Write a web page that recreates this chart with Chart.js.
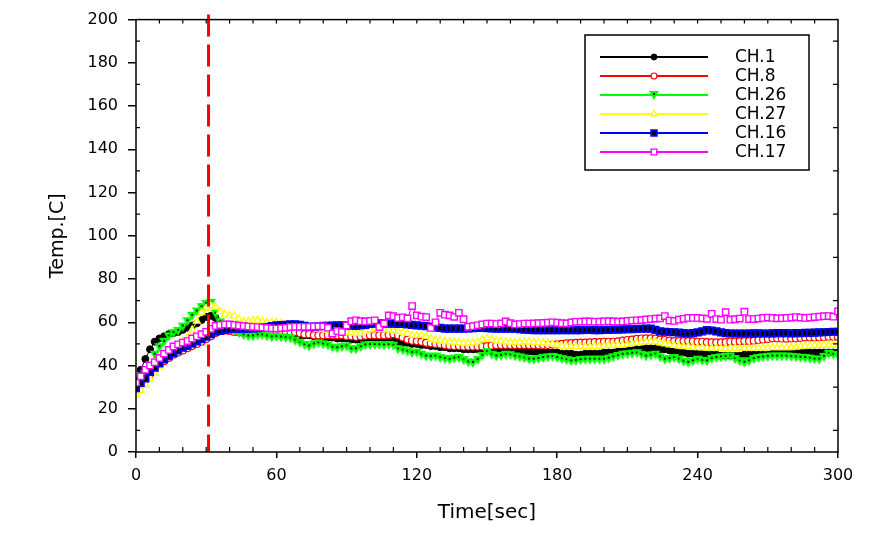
<!DOCTYPE html>
<html>
<head>
<meta charset="utf-8">
<title>Temp vs Time</title>
<script src="https://cdn.jsdelivr.net/npm/chart.js@4.4.0/dist/chart.umd.min.js"></script>
<style>
  html, body { margin: 0; padding: 0; background: #fff; }
</style>
</head>
<body>
<canvas id="tempChart" width="893" height="535"></canvas>
<script>
// readings every 2 s, 0..300 s
const times = Array.from({ length: 151 }, (_, i) => i * 2);

const ch1 = [
  33, 38, 43, 47.5, 51, 52.5, 53.5, 54.5, 55, 55.5,
  56.5, 57.5, 58.5, 59.5, 61, 62.5, 63, 62, 59, 57,
  56.5, 56.5, 56, 56, 56.5, 56, 56, 56.5, 56, 56.5,
  56, 55.5, 55, 54.5, 54.5, 54, 54, 54, 53.5, 53.5,
  53, 53, 53, 52.5, 52.5, 52.5, 52, 52, 52, 51.5,
  51.5, 51.5, 51.5, 51, 51, 51, 51, 50.5, 50.5, 50,
  50, 49.5, 49.5, 49, 49, 48.5, 48.5, 48, 48, 48,
  47.5, 47.5, 47.5, 47.5, 47, 47.5, 48, 48, 47.5, 47.5,
  47, 47, 47, 46.5, 46.5, 46.5, 46, 46, 46, 46,
  46, 45.5, 45.5, 45.5, 45, 45, 45.5, 45.5, 45.5, 45.5,
  46, 46, 46, 46.5, 46.5, 47, 47, 47.5, 47.5, 48,
  48, 48, 47.5, 47.5, 47, 46.5, 46, 46, 45.5, 45.5,
  45.5, 45.5, 45, 45, 45, 44.5, 44.5, 44.5, 44.5, 44.5,
  45, 45, 45, 45, 45, 45, 45.5, 45.5, 45.5, 45.5,
  45.5, 46, 46, 46, 46, 46, 46, 46, 46, 46,
  46
];
const ch8 = [
  29, 31, 33.5, 36, 38.5, 40.5, 42, 43.5, 45, 46,
  47, 48, 49, 50, 51, 52.3, 53.5, 55, 56, 56.2,
  56, 55.5, 55.5, 55, 55, 55, 55.5, 55, 55, 55.5,
  55.5, 55.5, 55.5, 55.5, 55.5, 55, 54.5, 54.5, 54, 54,
  54, 54, 54, 54, 54, 53.5, 53.5, 53.3, 53.5, 53.8,
  54, 54, 54, 54, 54.2, 54.5, 54, 53, 52, 51.5,
  51.3, 51, 50.5, 50.3, 50, 49.8, 49.5, 49.2, 49, 49,
  48.8, 48.8, 48.8, 48.8, 48.8, 49, 49.3, 49.5, 49.5, 49.5,
  49.5, 49.5, 49.5, 49.5, 49.5, 49.5, 49.5, 49.5, 49.5, 49.7,
  49.8, 50, 50.2, 50.4, 50.5, 50.6, 50.6, 50.7, 50.8, 50.8,
  51, 51, 51, 51.2, 51.5, 51.8, 52, 52.3, 52.5, 52.6,
  52.6, 52.4, 52, 51.8, 51.5, 51.3, 51.3, 51.3, 51.3, 51.2,
  51, 51, 50.8, 50.7, 50.7, 50.7, 50.8, 51, 51, 51.2,
  51.3, 51.3, 51.5, 51.8, 52, 52.3, 52.6, 52.6, 52.5, 52.4,
  52.5, 52.6, 52.8, 53, 53, 53, 53.1, 53.2, 53.3, 53.3,
  53.3
];
const ch26 = [
  28, 32, 36, 40, 45, 48.5, 51, 53.5, 55, 56,
  58, 60.5, 63, 65, 67, 68.5, 69, 64, 60, 58.5,
  57, 56, 55, 54, 53.5, 53.5, 54, 54, 53.5, 53,
  53.3, 53, 52.8, 52.5, 51.5, 50.5, 49.5, 48.8, 49.8, 50.3,
  49.8, 49.3, 48.3, 48, 48.5, 48.8, 47.5, 47.5, 48.5, 49.3,
  49.5, 49.5, 49.5, 49.3, 49.5, 49.2, 47.5, 47, 46.5, 45.8,
  46, 45, 44.2, 44, 44.2, 43.5, 43, 42.7, 43.2, 43.5,
  42.5, 41.5, 41.2, 42.5, 44.5, 46.2, 45, 44.2, 44.5, 45,
  44.8, 44.2, 43.8, 43.3, 42.8, 42.7, 43, 43.5, 43.8, 44,
  43.5, 43, 42.5, 42, 42.2, 42.5, 42.7, 42.7, 42.7, 42.7,
  42.7, 43.2, 43.8, 44.4, 45, 45.2, 45.5, 45.7, 45, 44.2,
  44.6, 45, 43.8, 42.7, 43, 43.5, 42.8, 41.8, 41.3, 42,
  42.7, 42.2, 42, 43, 43.5, 43.8, 44, 44.2, 43, 42,
  41.3, 42, 43, 43.5, 43.8, 44, 44.2, 44.2, 44.2, 44.2,
  44, 43.8, 43.6, 43.5, 43.2, 42.8, 42.7, 44, 45.5, 45,
  44.5
];
const ch27 = [
  26.5, 28.5, 31, 34, 36.5, 39.5, 42.5, 45, 47, 49,
  51, 53, 56.5, 60.5, 64.5, 66.5, 67.7, 67, 65, 63.8,
  63.2, 63, 61.5, 60.2, 60.5, 61, 61, 60.5, 60, 60,
  60, 59.5, 59, 58.7, 58.5, 58.3, 58, 57.9, 57.5, 57,
  56.6, 56.3, 56, 55.8, 55.6, 55.4, 55.2, 55, 55, 55.8,
  56.5, 57, 56.8, 56.6, 56.5, 56.3, 55.8, 55.3, 54.9, 54,
  54, 54, 53.5, 52.5, 51.8, 51.5, 51.2, 51, 50.8, 50.6,
  50.4, 50.3, 50.5, 51, 52, 52.6, 52, 51.5, 51.3, 51,
  50.8, 50.6, 50.8, 51, 51, 50.8, 50.6, 50.5, 50.3, 50,
  49.5, 49, 48.8, 48.8, 48.8, 48.8, 48.8, 48.8, 49, 49,
  49.2, 49.3, 49.4, 49.5, 49.5, 49.8, 50.2, 50.5, 50.8, 51,
  51, 51, 50.5, 50, 49.6, 49.3, 49, 48.8, 48.8, 48.5,
  48.3, 48.2, 48.1, 48, 48, 48, 48, 48, 48, 48,
  48, 48, 48, 48, 48.2, 48.3, 48.3, 48.3, 48.3, 48.3,
  48.3, 48.5, 48.7, 49, 49.2, 49.4, 49.5, 49.5, 49.5, 49.5,
  49.5
];
const ch16 = [
  29.5, 32, 34, 37, 39, 41, 42.8, 44.3, 45.7, 47,
  48.2, 49.1, 50.1, 51.2, 52.2, 53.3, 54.5, 55.6, 56, 56.5,
  56.8, 57, 57.1, 57.1, 57.1, 57.2, 57.3, 57.5, 57.8, 58.2,
  58.6, 58.7, 58.8, 59, 59, 58.8, 58.3, 57.9, 58, 58.1,
  58.3, 58.4, 58.5, 58.6, 58.6, 58.5, 58.4, 58.3, 58.5, 58.8,
  59.2, 59.4, 59.5, 59.4, 59.4, 59.4, 59.3, 59.2, 59, 58.8,
  58.6, 58.4, 58.2, 57.9, 57.6, 57.4, 57.1, 57.1, 57.1, 57.1,
  57.1, 57.2, 57.3, 57.4, 57.4, 57.3, 57.2, 57.1, 57.1, 57.1,
  57.1, 57, 56.8, 56.6, 56.5, 56.4, 56.4, 56.4, 56.4, 56.4,
  56.4, 56.4, 56.3, 56.3, 56.4, 56.4, 56.5, 56.5, 56.4, 56.4,
  56.5, 56.5, 56.6, 56.6, 56.7, 56.8, 56.8, 56.9, 57, 57.1,
  57.1, 56.5, 55.8, 55.6, 55.5, 55.4, 55.2, 55, 54.8, 55,
  55.3, 55.8, 56.4, 56.2, 55.8, 55.3, 55, 54.8, 54.8, 54.8,
  54.8, 54.8, 54.9, 54.9, 54.8, 54.8, 54.9, 55, 55, 55,
  54.9, 55, 55, 55.1, 55.1, 55.2, 55.3, 55.4, 55.5, 55.6,
  55.6
];
const ch17 = [
  32, 35, 38, 40, 41.5, 43.5, 45.5, 47.2, 48.8, 49.8,
  50.6, 51.3, 52.5, 53.5, 54.5, 55.6, 57, 58.3, 58.7, 59,
  59, 58.7, 58.5, 58.3, 58, 57.9, 57.8, 57.6, 57.4, 57.2,
  57.1, 57.3, 57.5, 57.8, 57.9, 57.9, 57.9, 57.9, 58, 58.1,
  58.1, 57.5, 54.8, 56, 55.5, 58.5, 60.5, 60.9, 60.5, 60.4,
  60.6, 60.9, 57.8, 59.5, 63.2, 62.8, 62, 62.3, 61.8, 67.5,
  63.2, 62.6, 62.4, 57.4, 60, 64.4, 63.5, 63.2, 62.5, 64.4,
  61.4, 57.9, 58.2, 58.6, 59, 59.4, 59.4, 59.2, 59.5, 60.4,
  59.6, 59, 59.2, 59.4, 59.4, 59.5, 59.6, 59.7, 59.8, 60,
  59.8, 59.6, 59.5, 59.9, 60.2, 60.3, 60.4, 60.4, 60.2, 60.3,
  60.4, 60.5, 60.4, 60.3, 60.4, 60.6, 60.8, 60.9, 61, 61.3,
  61.5, 61.7, 61.8, 62.9, 60.8, 60.6, 61.2, 61.6, 62, 62,
  62, 61.8, 61.6, 63.9, 61.5, 61.2, 64.7, 61.2, 61.4, 61.7,
  64.9, 61.5, 61.5, 61.7, 62, 62.2, 62, 61.8, 61.9, 62,
  62.2, 62.4, 62.2, 62, 62.2, 62.4, 62.6, 62.8, 62.9, 62.6,
  65
];

const channelNames = ["CH.1", "CH.8", "CH.26", "CH.27", "CH.16", "CH.17"];
const channelValues = [ch1, ch8, ch26, ch27, ch16, ch17];
const xTicks = [0, 60, 120, 180, 240, 300];
const yTicks = [0, 20, 40, 60, 80, 100, 120, 140, 160, 180, 200];
const markerTime = 31;

const FONT = "'DejaVu Sans', 'Liberation Sans', Arial, sans-serif";

// green down-triangle with a dark centre, as in the original
function greenTriangle() {
  const c = document.createElement("canvas");
  c.width = 10; c.height = 10;
  const g = c.getContext("2d");
  g.fillStyle = "#00ff00";
  g.beginPath();
  g.moveTo(0, 1); g.lineTo(10, 1); g.lineTo(5, 10); g.closePath();
  g.fill();
  g.fillStyle = "#002200";
  g.fillRect(4, 3, 2, 2);
  return c;
}

const looks = [
  { color: "#000000", style: "circle", radius: 3.5, fill: "#000000", bw: 1 },
  { color: "#ff0000", style: "circle", radius: 3.5, fill: "#ffffff", bw: 1.2 },
  { color: "#00ff00", style: greenTriangle(), radius: 4, fill: "#00ff00", bw: 1 },
  { color: "#ffff00", style: "triangle", radius: 4, fill: "#ffffff", bw: 1.3 },
  { color: "#0000ff", style: "rect", radius: 4.5, fill: "#000000", bw: 1.8 },
  { color: "#ff00ff", style: "rect", radius: 4.5, fill: "#ffffff", bw: 1.4 }
];

const datasets = channelNames.map((name, i) => ({
  label: name,
  data: times.map((t, k) => ({ x: t, y: channelValues[i][k] })),
  borderColor: looks[i].color,
  borderWidth: 1,
  pointStyle: looks[i].style,
  pointRadius: looks[i].radius,
  pointBackgroundColor: looks[i].fill,
  pointBorderColor: looks[i].color,
  pointBorderWidth: looks[i].bw,
  tension: 0,
  order: channelNames.length - 1 - i
}));

const framePlugin = {
  id: "frame",
  afterDatasetsDraw(chart) {
    const { ctx, chartArea: a, scales } = chart;
    const xs = scales.x, ys = scales.y;
    ctx.save();

    // red dashed marker
    const mx = xs.getPixelForValue(markerTime);
    ctx.strokeStyle = "#ff0000";
    ctx.lineWidth = 3;
    ctx.setLineDash([22, 8]);
    ctx.beginPath();
    ctx.moveTo(mx, a.top - 5);
    ctx.lineTo(mx, a.bottom);
    ctx.stroke();
    ctx.setLineDash([]);

    // frame
    ctx.strokeStyle = "#000";
    ctx.lineWidth = 1.5;
    ctx.strokeRect(a.left, a.top, a.right - a.left, a.bottom - a.top);

    // minor / inner ticks
    ctx.lineWidth = 1.2;
    ctx.beginPath();
    for (let v = 10; v < 300; v += 10) {
      const px = xs.getPixelForValue(v);
      if (v % 60 !== 0) { ctx.moveTo(px, a.bottom); ctx.lineTo(px, a.bottom - 5); }
      ctx.moveTo(px, a.top); ctx.lineTo(px, a.top + 4);
    }
    for (let v = 10; v < 200; v += 20) {
      const py = ys.getPixelForValue(v);
      ctx.moveTo(a.left, py); ctx.lineTo(a.left + 4, py);
      ctx.moveTo(a.right, py); ctx.lineTo(a.right - 5, py);
    }
    ctx.stroke();

    // legend
    const bx = 585, by = 35, bw = 224, bh = 135;
    ctx.fillStyle = "#fff";
    ctx.fillRect(bx, by, bw, bh);
    ctx.lineWidth = 1.5;
    ctx.strokeRect(bx, by, bw, bh);
    ctx.font = "17px " + FONT;
    ctx.textBaseline = "middle";
    ctx.textAlign = "left";
    chart.data.datasets.forEach((ds, i) => {
      const y = by + 22 + i * 19;
      ctx.strokeStyle = ds.borderColor;
      ctx.lineWidth = 2;
      ctx.beginPath();
      ctx.moveTo(600, y); ctx.lineTo(708, y);
      ctx.stroke();
      ctx.fillStyle = ds.pointBackgroundColor;
      ctx.strokeStyle = ds.pointBorderColor;
      ctx.lineWidth = ds.pointBorderWidth;
      Chart.helpers.drawPoint(ctx, {
        pointStyle: ds.pointStyle, radius: ds.pointRadius - 0.5, rotation: 0, borderWidth: ds.pointBorderWidth
      }, 654, y);
      ctx.fillStyle = "#000";
      ctx.fillText(ds.label, 735, y + 1);
    });
    ctx.restore();
  }
};

new Chart(document.getElementById("tempChart"), {
  type: "line",
  data: { datasets: datasets },
  plugins: [framePlugin],
  options: {
    responsive: false,
    animation: false,
    devicePixelRatio: 1,
    layout: { padding: { top: 13, right: 55, left: 0, bottom: 0 } },
    plugins: { legend: { display: false }, tooltip: { enabled: false } },
    scales: {
      x: {
        type: "linear",
        min: 0, max: 300,
        afterBuildTicks: s => { s.ticks = xTicks.map(v => ({ value: v })); },
        afterFit: s => { s.height = 83; },
        ticks: { autoSkip: false, maxRotation: 0, padding: 8, color: "#000", font: { family: FONT, size: 16 } },
        grid: { display: true, drawOnChartArea: false, drawTicks: true, tickLength: 6, color: "#000", lineWidth: 1.5 },
        border: { display: false },
        title: { display: true, text: "Time[sec]", color: "#000", font: { family: FONT, size: 20 }, padding: { top: 0, bottom: 10 } }
      },
      y: {
        type: "linear",
        min: 0, max: 200,
        afterBuildTicks: s => { s.ticks = yTicks.map(v => ({ value: v })); },
        afterFit: s => { s.width = 136; },
        ticks: { autoSkip: false, padding: 10, color: "#000", font: { family: FONT, size: 16 } },
        grid: { display: true, drawOnChartArea: false, drawTicks: true, tickLength: 8, color: "#000", lineWidth: 1.5 },
        border: { display: false },
        title: { display: true, text: "Temp.[C]", color: "#000", font: { family: FONT, size: 19 }, padding: { top: 47, bottom: 0 } }
      }
    }
  }
});
</script>
</body>
</html>
